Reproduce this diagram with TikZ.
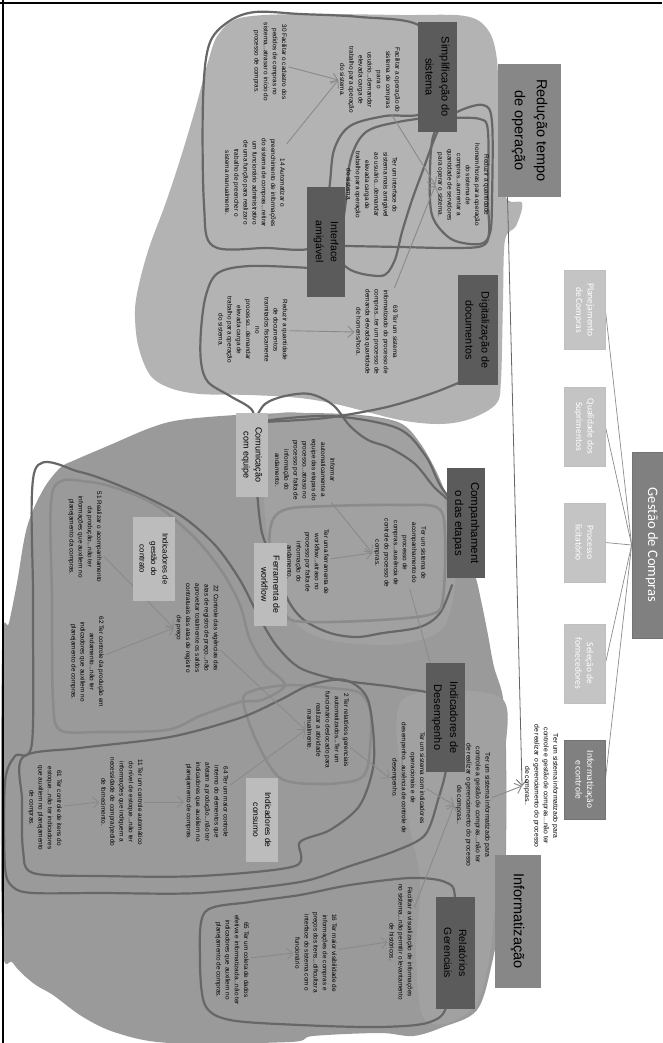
\documentclass[tikz,border=0pt]{standalone}
\usepackage{fontspec}
\setmainfont{Liberation Sans}
\newfontfamily\calibrifont{Carlito}
\usetikzlibrary{arrows.meta,calc}
\pgfdeclarelayer{blobs}
\pgfdeclarelayer{lines}
\pgfsetlayers{blobs,lines,main}

\definecolor{blobtop}{HTML}{B3B3B3}
\definecolor{blobbase}{HTML}{9A9A9A}
\definecolor{blobsoft}{HTML}{A1A1A1}
\definecolor{loopdark}{HTML}{676767}
\definecolor{looppale}{HTML}{8B8B8B}
\definecolor{flowgray}{HTML}{8A8A8A}
\definecolor{boxdark}{HTML}{5B5B5B}
\definecolor{boxmid}{HTML}{878787}
\definecolor{boxlight}{HTML}{BCBCBC}
\definecolor{rightlight}{HTML}{C4C4C4}
\definecolor{rightdark}{HTML}{808080}

\tikzset{
  note/.style={rotate=-90, align=center, inner sep=1.5pt, text=black,
    font=\fontsize{6.4}{9.2}\selectfont},
  darkbox/.style={rotate=-90, fill=boxdark, align=center, inner sep=0pt, text=black},
  midbox/.style={rotate=-90, fill=boxmid, align=center, inner sep=0pt, text=black},
  lightbox/.style={rotate=-90, fill=boxlight, align=center, inner sep=0pt, text=black},
  rightbox/.style={rotate=-90, fill=rightlight, draw=black!25, line width=0.8pt,
    align=center, inner sep=0pt, text=white, minimum width=79pt, minimum height=41pt,
    font=\calibrifont\fontsize{9.5}{11.5}\selectfont},
  loopline/.style={draw=loopdark, line width=2.2pt, line join=round, line cap=round},
  paleline/.style={draw=looppale, line width=2.6pt, line join=round, line cap=round},
  flow/.style={draw=flowgray, line width=0.9pt, -{Straight Barb[length=6pt,width=11pt]}},
  spoke/.style={draw=black!45, line width=0.7pt},
}

\begin{document}
\begin{tikzpicture}[x=1pt,y=-1pt]
\useasboundingbox (0,0) rectangle (662,1043);

% ---------- boxes of the right-hand tree ----------
\node[rightbox, fill=rightdark, draw=black!55, minimum width=186pt, minimum height=40pt,
      font=\calibrifont\fontsize{14.5}{16}\selectfont] (ges) at (652,545) {Gestão de Compras};
\node[rightbox] (plan) at (584.5,310) {Planejamento\\de Compras};
\node[rightbox] (qual) at (584.5,426.5) {Qualidade dos\\Suprimentos};
\node[rightbox] (proc) at (584.5,542.5) {Processo\\licitatório};
\node[rightbox] (sel)  at (584.5,663.5) {Seleção de\\fornecedores};
\node[rightbox, fill=rightdark, draw=black!55] (infc) at (584.5,779.5) {Informatização\\e controle};

% ---------- category boxes ----------
\node[midbox, minimum width=133pt, minimum height=63pt, font=\fontsize{14.5}{22}\selectfont]
  (red) at (529.5,130.5) {Redução tempo\\de operação};
\node[darkbox, minimum width=110pt, minimum height=39pt, font=\fontsize{11}{16}\selectfont]
  (simp) at (437.5,77) {Simplificação do\\sistema};
\node[darkbox, minimum width=110pt, minimum height=38pt, font=\fontsize{10.5}{15}\selectfont]
  (intf) at (326,242) {Interface\\amigável};
\node[darkbox, minimum width=110pt, minimum height=40pt, font=\fontsize{10.8}{16}\selectfont]
  (dig) at (477.5,330) {Digitalização de\\documentos};
\node[lightbox, minimum width=84pt, minimum height=32pt, font=\fontsize{9}{12}\selectfont]
  (com) at (252,455) {Comunicação\\com equipe};
\node[darkbox, minimum width=110pt, minimum height=38pt, font=\fontsize{11.5}{16}\selectfont]
  (comp) at (466,523) {Companhament\\o das etapas};
\node[lightbox, minimum width=83pt, minimum height=33pt, font=\fontsize{8.8}{12}\selectfont]
  (fer) at (270.5,584.5) {Ferramenta de\\workflow};
\node[darkbox, minimum width=109pt, minimum height=39pt, font=\fontsize{11}{16}\selectfont]
  (des) at (445,717.5) {Indicadores de\\Desempenho};
\node[lightbox, minimum width=84pt, minimum height=42pt, font=\fontsize{7.8}{11.5}\selectfont]
  (gct) at (154,559) {Indicadores de\\gestão do\\contrato};
\node[lightbox, minimum width=84pt, minimum height=32pt, font=\fontsize{8.4}{12}\selectfont]
  (cons) at (262,820) {Indicadores de\\consumo};
\node[darkbox, minimum width=112pt, minimum height=39pt, font=\fontsize{10.5}{15}\selectfont]
  (rel) at (455.5,953) {Relatórios\\Gerenciais};
\node[midbox, minimum width=133pt, minimum height=46pt, font=\fontsize{14.5}{18}\selectfont]
  (inf) at (517.5,921) {Informatização};

% ---------- statements ----------
\node[note] (t1) at (270,62) {30 Facilitar o cadastro dos\\pedidos de compras no\\sistema...atrasar o início do\\processo  de compras.};
\node[note] (t2) at (370,80) {Facilitar a operação do\\sistema de compras\\para o\\usuário...demandar\\elevada carga de\\trabalho para operação\\do sistema.};
\node[note] (t3) at (255,183) {14 Automatizar o\\preenchimento de informações\\do sistema de compras...retirar\\um funcionário administrativo\\de uma função para realizar o\\trabalho de preencher o\\sistema manualmente.};
\node[note] (t4) at (372,185) {Ter um interface do\\sistema mais amigável\\ao usuário...demandar\\elevada carga de\\trabalho para operação\\do sistema.};
\node[note] (t5) at (463,185) {Reduzir a quantidade\\homem/horas para operação\\do sistema de\\compras...aumentar a\\quantidade de servidores\\para operar o sistema.};
\node[note] (t6) at (377,332) {69 Ter um sistema\\informatizado do processo de\\compras...ter um processo  de\\demanda elevada quantidade\\de homens/hora.};
\node[note] (t7) at (253,330) {Reduzir a quantidade\\de documentos\\tramitados fisicamente\\no\\processo...demandar\\elevada carga de\\trabalho para operação\\do sistema.};
\node[note] (t8) at (305,470) {Informar\\automaticamente a\\equipe das etapas do\\processo...atraso  no\\processo  por falta de\\informação do\\andamento.};
\node[note] (t9) at (400,553) {Ter um sistema  de\\acompanhamento do\\processo  de\\compras...ausência de\\controle do processo  de\\compras.};
\node[note] (t10) at (308,562) {Ter uma ferramenta de\\workflow...atraso no\\processo  por falta de\\informação do\\andamento.};
\node[note] (t11) at (197,628) {22 Controle das vigências das\\atas de registro de preço...não\\aproveitar totalmente os saldos\\contratuais das atas de registro\\de preço};
\node[note] (t12) at (85,537) {51 Realizar o acompanhamento\\da produção...não ter\\informações que auxiliem no\\planejamento da compras.};
\node[note] (t13) at (87,662) {62 Ter controle da produção em\\andamento...não ter\\indicadores que auxiliem no\\planejamento de compras.};
\node[note] (t14) at (328,730) {2 Ter relatórios gerenciais\\automatizados...Ter um\\funcionário deslocado para\\realizar a atividade\\manualmente.};
\node[note] (t15) at (408,778) {Ter um sistema  com indicadores\\operacionais e de\\desempenho...ausência de controle de\\desempenho.};
\node[note, font=\fontsize{6.8}{9.4}\selectfont] (t16) at (473,805) {Ter um sistema  informatizado para\\controle a gestão de compras...não ter\\de realizar o gerenciamento do processo\\de compras..};
\node[note, font=\fontsize{6.8}{9.4}\selectfont] (t17) at (541,786) {Ter um sistema  informatizado para\\controle e gestão de compras...não ter\\de realizar o gerenciamento do processo\\de compras..};
\node[note] (t18) at (401,942) {Facilitar a visualização de informações\\no sistema...não permitir o levantamento\\de históricos.};
\node[note] (t19) at (316,953) {16 Ter maior visibilidade de\\informações de compras e\\preços dos itens...dificultar a\\interface do sistema com o\\funcionário};
\node[note] (t20) at (207,802) {64 Ter um maior controle\\interno do elementos que\\afetam a produção...não ter\\indicadores que auxiliem no\\planejamento  de compras.};
\node[note] (t21) at (122,802) {11 Ter um controle automático\\do nível de estoque...não ter\\informações que indiquem a\\necessidade de compra/pedido\\de fornecimento.};
\node[note] (t22) at (45,808) {61 Ter controle de itens do\\estoque...não ter indicadores\\que auxiliem no planejamento\\de compras.};
\node[note] (t23) at (232,960) {65 Ter um coleta de dados\\efetiva e informatizada...não ter\\indicadores que auxiliem no\\planejamento de compras.};

% ---------- shaded regions ----------
\begin{pgfonlayer}{blobs}
\fill[white] (0,0) rectangle (662,1043);
% lower region
\fill[blobbase] plot[smooth cycle, tension=0.55] coordinates {
  (75,460) (110,445) (150,428) (180,420) (236,415) (300,413) (360,415) (400,423)
  (420,443) (437,473) (450,505) (462,540) (475,575) (482,605) (488,635) (494,667)
  (503,698) (506,750) (506,850) (503,900) (492,963) (477,1010) (443,1027) (413,1036)
  (380,1033) (313,1036) (290,1042) (170,1043) (117,1033) (83,1017) (53,995) (33,983)
  (13,963) (2,935) (2,650) (9,623) (17,583) (27,527) (43,490) (60,468)};
\fill[blobsoft] plot[smooth cycle, tension=0.55] coordinates {
  (264,420) (330,415) (398,424) (433,466) (448,520) (455,580) (445,625) (420,640)
  (380,645) (320,638) (286,612) (271,560) (264,500)};
\fill[blobsoft] plot[smooth cycle, tension=0.5] coordinates {
  (402,700) (500,697) (505,760) (505,850) (496,900) (489,960) (476,1005) (445,1024)
  (422,1015) (416,950) (420,880) (405,800)};
% upper region
\fill[blobtop] plot[smooth cycle, tension=0.55] coordinates {
  (218,35) (240,18) (300,14) (400,15) (465,16) (488,30) (497,60) (499,120) (505,195)
  (522,203) (516,226) (505,240) (503,300) (501,380) (496,404) (470,419) (440,424)
  (400,420) (340,405) (300,398) (250,395) (200,394) (170,388) (150,375) (138,345)
  (135,310) (140,280) (150,245) (165,205) (180,160) (195,110) (208,62)};
\end{pgfonlayer}

% ---------- hand-drawn groupings and arrows ----------
\begin{pgfonlayer}{lines}
% upper region groupings
\draw[loopline] plot[smooth cycle, tension=0.55] coordinates {
  (228,22) (255,12) (300,14) (360,17) (420,26) (440,70) (425,112) (385,116) (350,126)
  (334,150) (329,190) (318,245) (265,248) (213,246) (204,205) (203,100) (209,45)};
\draw[loopline] plot[smooth cycle, tension=0.55] coordinates {
  (440,117) (398,122) (366,132) (351,158) (346,200) (342,262) (380,276) (394,262)
  (402,232) (412,200) (423,170) (432,145) (440,125)};
\draw[loopline] plot[smooth cycle, tension=0.55] coordinates {
  (437,128) (431,150) (430,200) (435,222) (453,240) (480,244) (490,233) (492,200)
  (492,122) (483,105) (457,112)};
\draw[loopline] plot[smooth, tension=0.55] coordinates {
  (345,246) (400,247) (450,248) (482,246) (489,233) (488,200) (488,132) (480,119) (450,118)};
\draw[loopline] plot[smooth, tension=0.55] coordinates {
  (310,268) (250,266) (218,273) (206,295) (201,330) (201,362) (208,382) (230,396)
  (252,410) (255,430)};
\draw[loopline] plot[smooth, tension=0.55] coordinates {
  (262,422) (300,420) (333,417) (387,407) (433,393) (465,380)};
\draw[loopline] plot[smooth, tension=0.55] coordinates {
  (255,420) (265,404) (285,396) (310,394) (333,405) (350,426) (368,440) (390,448)
  (415,464) (435,488) (455,505)};
% lower region groupings
\draw[loopline] plot[smooth, tension=0.55] coordinates {
  (262,421) (330,416) (397,428) (425,455) (440,485) (455,505)};
\draw[loopline] plot[smooth, tension=0.55] coordinates {
  (257,490) (262,533) (276,567) (288,600) (304,620) (330,633) (357,637) (383,633)
  (420,627) (440,613) (452,585)};
\draw[paleline] plot[smooth cycle, tension=0.55] coordinates {
  (270,530) (284,510) (330,506) (400,505) (438,508) (445,535) (443,598) (432,614)
  (380,620) (310,622) (286,616) (273,582)};
\draw[loopline] plot[smooth cycle, tension=0.5] coordinates {
  (35,470) (80,472) (130,490) (180,515) (215,545) (240,580) (258,615) (276,645)
  (300,668) (340,680) (400,688) (440,700) (447,760) (438,800) (425,835) (395,851)
  (350,866) (300,882) (200,893) (100,893) (33,893) (13,887) (5,867) (5,782) (15,756)
  (32,743) (33,600)};
\draw[paleline] plot[smooth cycle, tension=0.5] coordinates {
  (53,490) (90,482) (133,494) (163,510) (197,540) (223,573) (240,605) (250,640)
  (265,665) (285,685) (262,700) (240,702) (200,716) (167,730) (100,732) (60,730)
  (53,700) (52,600)};
\draw[paleline] plot[smooth cycle, tension=0.5] coordinates {
  (243,700) (256,740) (280,778) (320,784) (357,780) (368,765) (371,715) (360,693)
  (330,688) (290,685) (255,690)};
\draw[loopline] plot[smooth cycle, tension=0.5] coordinates {
  (23,757) (80,748) (170,737) (240,718) (280,700) (310,685) (345,680) (368,700)
  (374,760) (360,805) (330,830) (300,842) (295,866) (200,876) (100,876) (33,873)
  (23,850) (22,800)};
\draw[loopline] plot[smooth cycle, tension=0.5] coordinates {
  (205,912) (250,902) (300,895) (350,885) (410,878) (445,882) (455,900) (448,1000)
  (430,1022) (380,1027) (300,1025) (230,1020) (205,1005) (200,960)};

% tree spokes
\foreach \b in {plan,qual,proc,sel,infc} \draw[spoke] (ges.south) -- (\b.north);

% cause-and-effect arrows
\draw[flow] (t1) -- (t2.south);
\draw[flow] (t3) -- (t2.south);
\draw[flow] (t2) -- (t5.south);
\draw[flow] (t6) -- (t5.south);
\draw[flow] (t7) -- (t6.south);
\draw[flow] (t8) -- (t9.south);
\draw[flow] (t10) -- (t9.south);
\draw[flow] (t12) -- (t11.south);
\draw[flow] (t13) -- (t11.south);
\draw[flow] (t11) -- (t14.south);
\draw[flow] (t20) -- (t14.south);
\draw[flow] (t21) -- (t20.south);
\draw[flow] (t22) -- (t21.south);
\draw[flow] (t14) -- (t15.south);
\draw[flow] (t15) -- (t16.south);
\draw[flow] (t18) -- (t16.south);
\draw[flow] (t19) -- (t18.south);
\draw[flow] (t23) -- (t19.south);
\draw[flow] (t16) -- (t17.south);
\draw[flow, draw=black!60, line width=0.8pt] ($(red.east)+(-22,0)$) -- (t17.south);
\draw[draw=flowgray, line width=0.8pt] (t9) -- (des);
\end{pgfonlayer}

% frame
\draw[line width=2pt] (0,3) -- (662,3);
\draw[line width=2pt] (3,0) -- (3,1043);
\end{tikzpicture}
\end{document}
